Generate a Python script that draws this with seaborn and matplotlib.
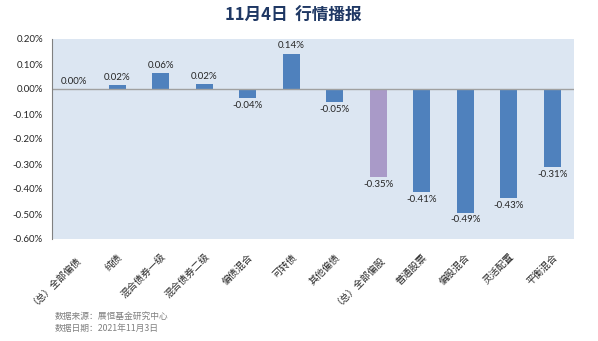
import matplotlib
matplotlib.use("Agg")
import matplotlib.pyplot as plt
import seaborn as sns
import pandas as pd
import numpy as np

categories = ["（总）全部偏债", "纯债", "混合债券一级", "混合债券二级", "偏债混合", "可转债",
              "其他偏债", "（总）全部偏股", "普通股票", "偏股混合", "灵活配置", "平衡混合"]
values = [0.002, 0.017, 0.064, 0.019, -0.035, 0.142, -0.05, -0.352, -0.412, -0.494, -0.435, -0.312]
highlight = [False, False, False, False, False, False, False, True, False, False, False, False]
yticks = [0.2, 0.1, 0.0, -0.1, -0.2, -0.3, -0.4, -0.5, -0.6]
title = "11月4日  行情播报"
source_lines = ["数据来源：展恒基金研究中心", "数据日期：2021年11月3日"]

sns.set_theme(style="white")
plt.rcParams['font.family'] = ['Noto Sans CJK SC', 'DejaVu Sans']
plt.rcParams['axes.unicode_minus'] = False
numfont = ["Lato", "DejaVu Sans"]

df = pd.DataFrame({"cat": categories, "val": values,
                   "grp": ["h" if h else "n" for h in highlight]})

fig = plt.figure(figsize=(5.98, 3.41), dpi=100)
ax = fig.add_axes([52/598, 1 - 239/341, (574-52)/598, (239-39)/341])
ax.set_facecolor("#dce6f2")

sns.barplot(data=df, x="cat", y="val", hue="grp",
            palette={"n": "#4f81bd", "h": "#a99ac8"}, dodge=False,
            width=0.4, legend=False, ax=ax, saturation=1, linewidth=0)

for i, v in enumerate(values):
    if v >= 0:
        ax.text(i, v + 0.012, f"{v:.2f}%", ha="center", va="bottom", fontsize=7,
                color="#262626", family=numfont)
    else:
        ax.text(i, v - 0.012, f"{v:.2f}%", ha="center", va="top", fontsize=7,
                color="#262626", family=numfont)

ax.set_ylim(-0.6, 0.2)
ax.set_xlim(-0.5, len(categories) - 0.5)
ax.set_yticks(yticks)
ax.set_yticklabels([f"{t:.2f}%" for t in yticks], fontsize=7, color="#262626", family=numfont)
ax.axhline(0, color="#a0a0a0", lw=1)
ax.set_xticks(range(len(categories)))
ax.set_xticklabels(categories, rotation=45, ha="right", rotation_mode="anchor",
                   fontsize=7, color="#262626")
ax.tick_params(axis="x", length=0, pad=9)
ax.tick_params(axis="y", length=0, pad=6.5)
ax.set_xlabel("")
ax.set_ylabel("")
for s in ["top", "right", "bottom"]:
    ax.spines[s].set_visible(False)
ax.spines["left"].set_color("#808080")
ax.spines["left"].set_linewidth(0.8)

fig.text(293/598, 1 - 16/341, title, ha="center", va="center", fontsize=12,
         fontweight="bold", color="#1f3864")
fig.text(55/598, 1 - 316/341, source_lines[0], ha="left", va="center", fontsize=6.3, color="#7f7f7f")
fig.text(55/598, 1 - 328/341, source_lines[1], ha="left", va="center", fontsize=6.3, color="#7f7f7f")

fig.savefig("out.png", dpi=100)
